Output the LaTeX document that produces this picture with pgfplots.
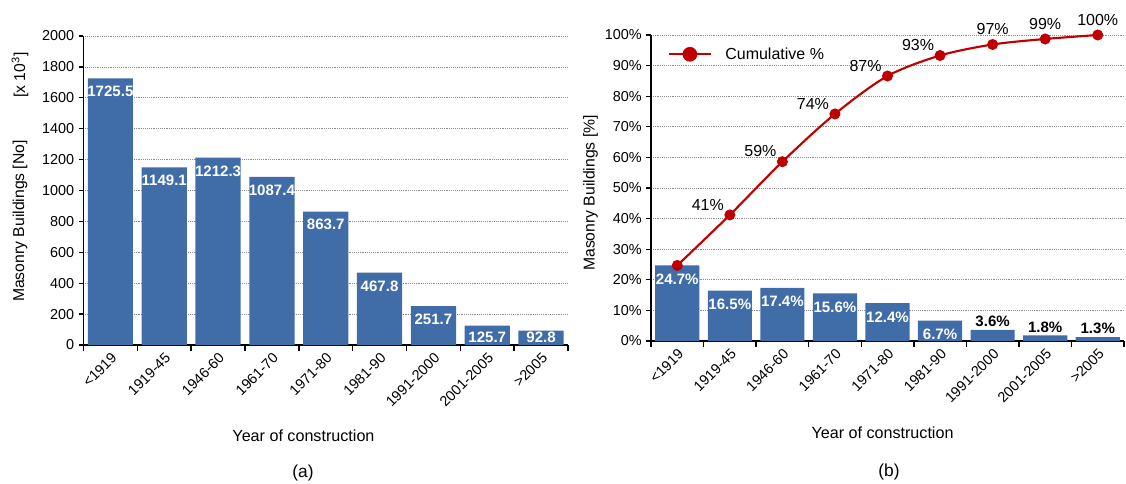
\documentclass[border=0pt]{standalone}
\usepackage{fontspec}
\setmainfont{Liberation Sans}
\usepackage{pgfplots}
\pgfplotsset{compat=1.18}
\definecolor{barblue}{RGB}{64,108,168}
\definecolor{cumred}{RGB}{192,0,0}
\pgfplotsset{
 common/.style={
  scale only axis, clip=false,
  axis x line*=bottom, axis y line*=left,
  axis line style={black, line width=1.1pt},
  xmin=-0.5, xmax=8.5,
  xtick={0,...,8},
  xticklabels={{<1919},{1919-45},{1946-60},{1961-70},{1971-80},{1981-90},{1991-2000},{2001-2005},{>2005}},
  major x tick style={draw=none},
  minor xtick={-0.5,0.5,...,8.5},
  minor x tick style={black, line width=1.1pt},
  minor tick length=4.5pt,
  major tick length=3.5pt,
  tick align=outside,
  major y tick style={black, line width=1pt},
  ymajorgrids, grid style={densely dotted, black!45, line width=0.5pt},
  tick label style={font=\fontsize{10.8}{12}\selectfont, text=black},
  xticklabel style={rotate=45, anchor=north east, inner sep=1pt},
 },
 barlab/.style={draw=none, mark=none, nodes near coords, point meta=explicit symbolic, forget plot},
}
\begin{document}
\begin{tikzpicture}
\path[use as bounding box] (0,0) rectangle (844.5pt,362.25pt);
% ---------- (a)
\begin{axis}[common, at={(62.6pt,103.5pt)}, anchor=south west,
  width=363.4pt, height=231.75pt,
  ymin=0, ymax=2000, ytick={0,200,...,2000},
  yticklabels={0,200,400,600,800,1000,1200,1400,1600,1800,2000}]
\addplot[ybar, bar width=0.84, fill=barblue, draw=none, forget plot] coordinates {
 (0,1725.5) (1,1149.1) (2,1212.3) (3,1087.4) (4,863.7) (5,467.8) (6,251.7) (7,125.7) (8,92.8)};
\addplot[barlab, nodes near coords style={anchor=north, text=white, yshift=-2.4pt, font=\bfseries\fontsize{11.3}{12}\selectfont}] coordinates {
 (0,1725.5) [1725.5] (1,1149.1) [1149.1] (2,1212.3) [1212.3] (3,1087.4) [1087.4] (4,863.7) [863.7]
 (5,467.8) [467.8] (6,251.7) [251.7]};
\addplot[barlab, nodes near coords style={anchor=center, text=white, font=\bfseries\fontsize{11.3}{12}\selectfont}] coordinates {
 (7,52) [125.7] (8,52) [92.8]};
\end{axis}
% ---------- (b)
\begin{axis}[common, at={(488.25pt,106.5pt)}, anchor=south west,
  width=354.75pt, height=229.5pt,
  ymin=0, ymax=100, ytick={0,10,...,100},
  yticklabels={0\%,10\%,20\%,30\%,40\%,50\%,60\%,70\%,80\%,90\%,100\%},
  legend style={at={(0.035,0.937)}, anchor=west, draw=none, fill=none,
    font=\fontsize{12}{14}\selectfont, inner sep=0pt},
  legend cell align=left,
  legend image code/.code={\draw[#1] (0pt,0pt) -- (31.5pt,0pt);
     \draw[#1, mark size=4.7pt] plot coordinates {(15.75pt,0pt)};}]
\addplot[ybar, bar width=0.84, fill=barblue, draw=none, forget plot] coordinates {
 (0,24.7) (1,16.5) (2,17.4) (3,15.6) (4,12.4) (5,6.7) (6,3.6) (7,1.8) (8,1.3)};
\addplot[barlab, nodes near coords style={anchor=north, text=white, yshift=-3pt, font=\bfseries\fontsize{11.3}{12}\selectfont}] coordinates {
 (0,24.7) [24.7\%] (1,16.5) [16.5\%] (2,17.4) [17.4\%] (3,15.6) [15.6\%] (4,12.4) [12.4\%] (5,6.7) [6.7\%]};
\addplot[barlab, nodes near coords style={anchor=south, text=black, inner sep=2pt, font=\bfseries\fontsize{11.3}{12}\selectfont}] coordinates {
 (6,3.6) [3.6\%] (7,1.8) [1.8\%] (8,1.3) [1.3\%]};
\addplot[cumred, line width=1.6pt, smooth, mark=*, mark size=3.3pt, mark options={fill=cumred, draw=cumred}] coordinates {
 (0,24.7) (1,41.2) (2,58.6) (3,74.2) (4,86.6) (5,93.3) (6,96.9) (7,98.7) (8,100)};
\addlegendentry{\hspace{8pt}Cumulative \%}
\addplot[barlab, nodes near coords style={anchor=center, text=black, xshift=-16.5pt, yshift=7.8pt, font=\fontsize{12}{14}\selectfont}] coordinates {
 (1,41.2) [41\%] (2,58.6) [59\%] (3,74.2) [74\%] (4,86.6) [87\%] (5,93.3) [93\%]};
\addplot[barlab, nodes near coords style={anchor=center, text=black, yshift=11.5pt, font=\fontsize{12}{14}\selectfont}] coordinates {
 (6,96.9) [97\%] (7,98.7) [99\%] (8,100) [100\%]};
\end{axis}
% ---------- labels
\node[rotate=90, font=\fontsize{11.8}{14}\selectfont] at (15pt,196.5pt) {Masonry Buildings [No]};
\node[rotate=90, font=\fontsize{11.8}{14}\selectfont] at (15pt,306pt) {[x 10\textsuperscript{3}]};
\node[rotate=90, font=\fontsize{11.8}{14}\selectfont] at (443pt,217.5pt) {Masonry Buildings [\%]};
\node[font=\fontsize{12.1}{14}\selectfont] at (227.6pt,35.25pt) {Year of construction};
\node[font=\fontsize{12.1}{14}\selectfont] at (661.9pt,37.5pt) {Year of construction};
\node[font=\fontsize{13}{15}\selectfont] at (227.25pt,7.5pt) {(a)};
\node[font=\fontsize{13}{15}\selectfont] at (666.75pt,8.25pt) {(b)};
\end{tikzpicture}
\end{document}
